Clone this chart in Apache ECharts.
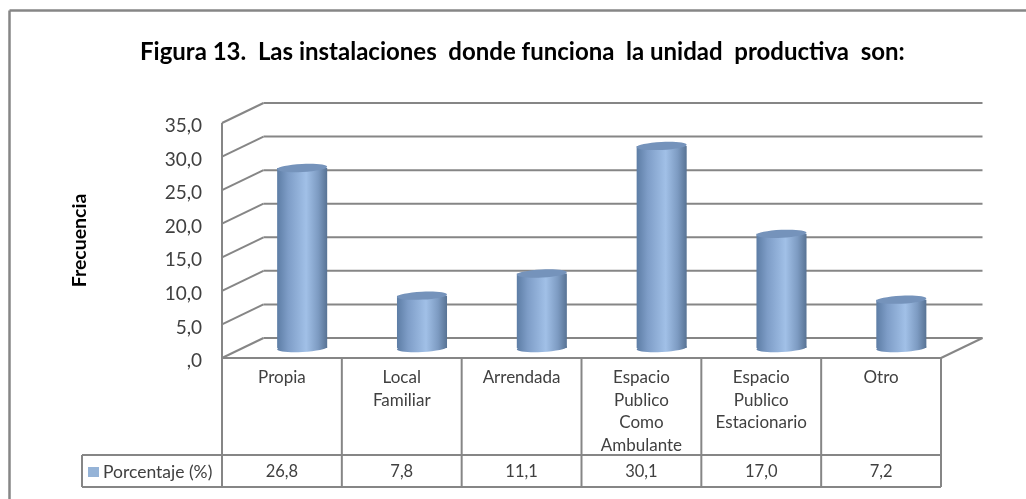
<!DOCTYPE html>
<html>
<head>
<meta charset="utf-8">
<style>html,body{margin:0;padding:0;background:#fff}#c{width:1026px;height:499px}</style>
<script src="https://cdn.jsdelivr.net/npm/echarts@6/dist/echarts.min.js"></script>
</head>
<body>
<div id="c"></div>
<script>
const titleText = 'Figura 13.  Las instalaciones  donde funciona  la unidad  productiva  son:';
const yAxisTitle = 'Frecuencia';
const seriesName = 'Porcentaje (%)';
const categories = ['Propia', 'Local\nFamiliar', 'Arrendada', 'Espacio\nPublico\nComo\nAmbulante', 'Espacio\nPublico\nEstacionario', 'Otro'];
const values = [26.8, 7.8, 11.1, 30.1, 17.0, 7.2];
const valueLabels = ['26,8', '7,8', '11,1', '30,1', '17,0', '7,2'];
const yTicks = [0, 5, 10, 15, 20, 25, 30, 35];
const yTickLabels = [',0', '5,0', '10,0', '15,0', '20,0', '25,0', '30,0', '35,0'];

const DEPTH_X = 41.5, DEPTH_Y = -20;
const LINE = '#868686', FONT = 'Lato', TEXT = '#404040';

function line(x1, y1, x2, y2, w) {
  return { type: 'line', shape: { x1, y1, x2, y2 }, style: { stroke: LINE, lineWidth: w || 2 } };
}

const chart = echarts.init(document.getElementById('c'), null, { renderer: 'canvas' });
chart.setOption({
  animation: false,
  backgroundColor: '#fff',
  title: {
    text: titleText, left: 140, top: 40, padding: 0,
    textStyle: { fontFamily: FONT, fontWeight: 'bold', fontSize: 24, color: '#000' }
  },
  legend: {
    left: 86, top: 461, itemWidth: 11, itemHeight: 10, itemGap: 0, padding: 2,
    data: [{ name: seriesName, icon: 'rect', itemStyle: { color: '#95b3d7' } }],
    textStyle: { fontFamily: FONT, fontSize: 17.5, color: TEXT, padding: [0, 0, 0, -1] },
    selectedMode: false
  },
  grid: { left: 222, right: 85, top: 123, bottom: 141 },
  xAxis: [
    {
      type: 'category', data: categories, position: 'bottom',
      axisLine: { show: false }, axisTick: { show: false }, splitLine: { show: false },
      axisLabel: {
        interval: 0, margin: 8, fontFamily: FONT, fontSize: 17, color: TEXT, lineHeight: 22.7,
        verticalAlign: 'top', hideOverlap: false
      }
    },
    {
      type: 'category', data: valueLabels, position: 'bottom', offset: 100,
      axisLine: { show: false }, axisTick: { show: false }, splitLine: { show: false },
      axisLabel: {
        interval: 0, margin: 5, fontFamily: FONT, fontSize: 16.5, color: TEXT,
        verticalAlign: 'top', hideOverlap: false
      }
    }
  ],
  yAxis: {
    type: 'value', min: 0, max: 35, interval: 5,
    name: yAxisTitle, nameLocation: 'middle', nameGap: 132, nameRotate: 90,
    nameTextStyle: { fontFamily: FONT, fontWeight: 'bold', fontSize: 19.5, color: '#000' },
    axisLine: { show: false }, axisTick: { show: false }, splitLine: { show: false },
    axisLabel: {
      margin: 20, fontFamily: FONT, fontSize: 19, color: TEXT, verticalAlign: 'top', lineHeight: 6,
      formatter: v => yTickLabels[yTicks.indexOf(v)]
    }
  },
  series: [
    {
      type: 'custom', name: 'walls', z: 1, silent: true,
      encode: { x: 0, y: 1 },
      data: yTicks.map(v => [0, v]),
      renderItem(params, api) {
        const cs = params.coordSys;
        const y = api.coord([0, api.value(1)])[1];
        const x0 = cs.x, x1 = cs.x + cs.width;
        return { type: 'group', children: [
          line(x0, y, x0 + DEPTH_X, y + DEPTH_Y),
          line(x0 + DEPTH_X, y + DEPTH_Y, x1 + DEPTH_X, y + DEPTH_Y)
        ] };
      }
    },
    {
      type: 'custom', name: seriesName, z: 3, silent: true,
      encode: { x: 0, y: 1 },
      data: values.map((v, i) => [i, v]),
      renderItem(params, api) {
        const band = api.size([1, 0])[0];
        const rx = band * 0.2088, ry = 4;
        const top = api.coord([api.value(0), api.value(1)]);
        const base = api.coord([api.value(0), 0]);
        const cx = top[0] + DEPTH_X / 2 - 0.5;
        const yTop = top[1] + DEPTH_Y / 2, yBase = base[1] + DEPTH_Y / 2;
        const grad = new echarts.graphic.LinearGradient(0, 0, 1, 0, [
          { offset: 0, color: '#5d7da5' },
          { offset: 0.22, color: '#7e9dc7' },
          { offset: 0.58, color: '#a1c0e7' },
          { offset: 0.82, color: '#7d9bc2' },
          { offset: 1, color: '#587394' }
        ]);
        const tilt = 0.05;
        return { type: 'group', children: [
          { type: 'ellipse', shape: { cx, cy: yBase, rx, ry }, rotation: tilt, originX: cx, originY: yBase, style: { fill: grad } },
          { type: 'rect', shape: { x: cx - rx, y: yTop, width: rx * 2, height: yBase - yTop }, style: { fill: grad } },
          { type: 'ellipse', shape: { cx, cy: yTop, rx, ry }, rotation: tilt, originX: cx, originY: yTop, style: { fill: '#7593bb' } }
        ] };
      }
    },
    {
      type: 'custom', name: 'table', z: 2, silent: true,
      encode: { x: 0, y: 1 },
      data: [[0, 0]],
      renderItem(params, api) {
        const cs = params.coordSys;
        const x0 = cs.x, x1 = cs.x + cs.width;
        const yZero = cs.y + cs.height, yTop = cs.y;
        const yMid = yZero + 97, yEnd = yZero + 129, xLegend = x0 - 140;
        const kids = [
          line(x0, yTop, x0, yEnd),
          line(x0, yZero, x1, yZero),
          line(x1, yZero, x1 + DEPTH_X, yZero + DEPTH_Y),
          line(xLegend, yMid, x1, yMid),
          line(xLegend, yEnd, x1, yEnd),
          line(xLegend, yMid, xLegend, yEnd)
        ];
        categories.forEach((c, i) => {
          const x = x0 + cs.width * (i + 1) / categories.length;
          kids.push(line(x, yZero, x, yEnd));
        });
        return { type: 'group', children: kids };
      }
    }
  ],
  graphic: [
    { type: 'line', shape: { x1: 9.5, y1: 10.5, x2: 9.5, y2: 499 }, style: { stroke: '#868686', lineWidth: 2.5 } },
    { type: 'line', shape: { x1: 9.5, y1: 10.5, x2: 1026, y2: 10.5 }, style: { stroke: '#868686', lineWidth: 2.5 } }
  ]
});
</script>
</body>
</html>
